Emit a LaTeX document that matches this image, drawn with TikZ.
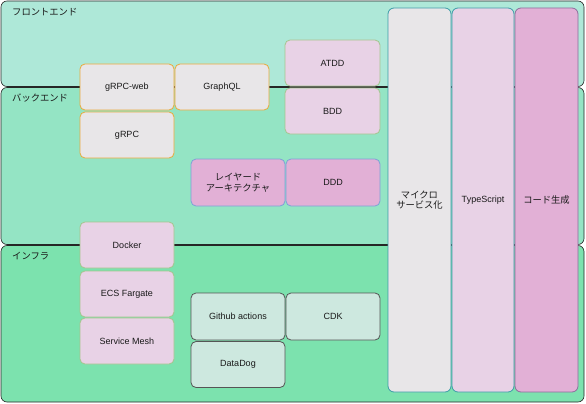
\documentclass[tikz,border=0pt]{standalone}
\usepackage{fontspec}
\setmainfont{Liberation Sans}
\newfontfamily\cjk{Noto Sans CJK JP}
\definecolor{frontfill}{HTML}{AEE8D8}
\definecolor{backfill}{HTML}{94E4C4}
\definecolor{infrafill}{HTML}{7CE2AE}
\definecolor{greyfill}{HTML}{E8E6E8}
\definecolor{orangeline}{HTML}{E8AA3C}
\definecolor{pinkfill}{HTML}{E8D2E6}
\definecolor{oliveline}{HTML}{A6C48E}
\definecolor{rosefill}{HTML}{E2B0D6}
\definecolor{blueline}{HTML}{7EA0D8}
\definecolor{mintfill}{HTML}{CDE8DF}
\definecolor{darkline}{HTML}{555555}
\definecolor{tealline}{HTML}{3C9CA8}
\definecolor{plumline}{HTML}{8C6E9C}
\begin{document}
\begin{tikzpicture}[x=1pt,y=-1pt,
  layer/.style={draw=black!85,line width=0.6pt,rounded corners=6pt},
  layerlabel/.style={anchor=west,inner sep=0pt,font=\cjk\fontsize{9.3}{11}\selectfont,text=black!90},
  box/.style={rounded corners=5pt,line width=0.8pt,minimum width=94pt,minimum height=46pt,
    inner sep=1pt,align=center,font=\fontsize{9}{10.5}\selectfont,text=black!90},
  apibox/.style={box,fill=greyfill,draw=orangeline},
  testbox/.style={box,fill=pinkfill,draw=oliveline},
  designbox/.style={box,fill=rosefill,draw=blueline},
  toolbox/.style={box,fill=mintfill,draw=darkline},
  column/.style={box,minimum width=63pt,minimum height=384pt,rounded corners=6pt}]
\useasboundingbox (0,0) rectangle (586,404);

% layers
\fill[white] (0,0) rectangle (586,404);
\draw[layer,fill=frontfill] (1,1) rectangle (584,86.5);
\draw[layer,fill=backfill] (1,87.5) rectangle (584,244.5);
\draw[layer,fill=infrafill] (1,245.5) rectangle (584,402);
\node[layerlabel] (front) at (12,12) {フロントエンド};
\node[layerlabel] (back) at (12,98) {バックエンド};
\node[layerlabel] (infra) at (12,256) {インフラ};

% columns
\node[column,fill=greyfill,draw=tealline] (micro) at (419.5,200) {\cjk\fontsize{9.3}{11}\selectfont マイクロ\\\cjk\fontsize{9.3}{11}\selectfont サービス化};
\node[column,fill=pinkfill,draw=tealline,minimum width=62pt] (ts) at (483,200) {TypeScript};
\node[column,fill=rosefill,draw=plumline] (codegen) at (546.5,200) {\cjk\fontsize{9.3}{11}\selectfont コード生成};

% boxes
\node[apibox] (grpcweb) at (127,87) {gRPC-web};
\node[apibox] (graphql) at (222,87) {GraphQL};
\node[apibox] (grpc) at (127,135) {gRPC};
\node[testbox,minimum width=95pt] (atdd) at (332.5,63) {ATDD};
\node[testbox,minimum width=95pt] (bdd) at (332.5,111) {BDD};
\node[designbox,minimum height=47pt] (layered) at (238,182.5) {\cjk\fontsize{9.3}{11}\selectfont レイヤード\\\cjk\fontsize{9.3}{11}\selectfont アーキテクチャ};
\node[designbox,minimum height=47pt] (ddd) at (333,182.5) {DDD};
\node[testbox] (docker) at (127,245) {Docker};
\node[testbox] (ecs) at (127,294) {ECS Fargate};
\node[testbox] (mesh) at (127,341) {Service Mesh};
\node[toolbox,minimum height=47pt] (github) at (238,316.5) {Github actions};
\node[toolbox] (datadog) at (238,364.5) {DataDog};
\node[toolbox,minimum height=47pt] (cdk) at (333,316.5) {CDK};
\end{tikzpicture}
\end{document}
